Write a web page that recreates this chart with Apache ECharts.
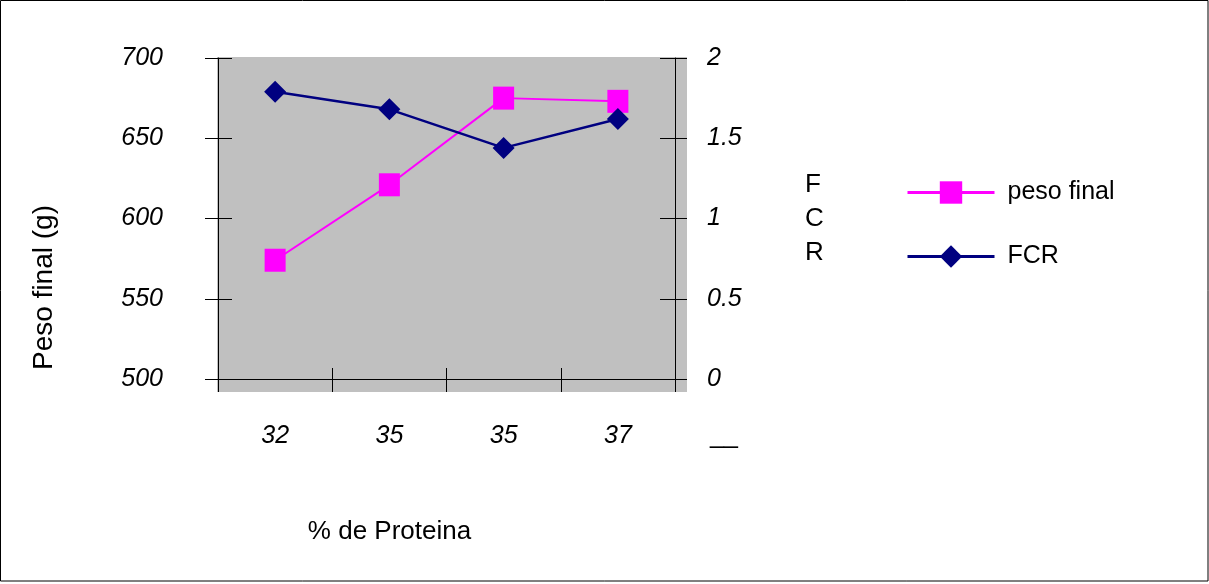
<!DOCTYPE html>
<html>
<head>
<meta charset="utf-8">
<script src="https://cdn.jsdelivr.net/npm/echarts@6/dist/echarts.min.js"></script>
<style>
  html, body { margin: 0; padding: 0; background: #fff; }
  #main { width: 1209px; height: 584px; }
</style>
</head>
<body>
<div id="main"></div>
<script>
// datos
const categorias = ['32', '35', '35', '37']
const pesoFinal = [574, 621, 675, 673]
const fcr = [1.79, 1.68, 1.44, 1.62]

const fuente = 'Liberation Sans'
const chart = echarts.init(document.getElementById('main'))

const labelStyle = { color: '#000', fontFamily: fuente, fontSize: 25, fontStyle: 'italic' }

chart.setOption({
  backgroundColor: '#fff',
  animation: false,
  grid: { left: 218, right: 534, top: 58, bottom: 205, containLabel: false },
  graphic: [
    // fondo gris del área de trazado (sobresale de los ejes)
    { type: 'rect', z: -10, shape: { x: 217, y: 57, width: 470, height: 335 }, style: { fill: '#c0c0c0' } },
    // marco exterior
    { type: 'rect', z: -20, shape: { x: 0.5, y: 0.5, width: 1207.5, height: 580.5 }, style: { fill: '#fff', stroke: '#000', lineWidth: 1 } },
    { type: 'text', left: 710, top: 424, style: { text: '__', fontFamily: fuente, fontSize: 25, fill: '#000' } }
  ],
  legend: {
    orient: 'vertical',
    left: 906,
    top: 180,
    padding: 0,
    itemWidth: 87,
    itemHeight: 28,
    itemGap: 39,
    lineStyle: { width: 3 },
    textStyle: { color: '#000', fontFamily: fuente, fontSize: 25, padding: [0, 0, 0, 8] },
    data: ['peso final', 'FCR']
  },
  xAxis: [{
    type: 'category',
    data: categorias,
    position: 'bottom',
    axisLine: { show: true, lineStyle: { color: '#000', width: 1 } },
    axisTick: { show: true, inside: true, length: 11, lineStyle: { color: '#000' } },
    axisLabel: Object.assign({ margin: 45 }, labelStyle),
    splitLine: { show: false },
    name: '% de Proteina',
    nameLocation: 'middle',
    nameGap: 140,
    nameTextStyle: { color: '#000', fontFamily: fuente, fontSize: 26, padding: [0, 114, 0, 0] }
  }, {
    type: 'category',
    data: categorias,
    position: 'bottom',
    axisLine: { show: false },
    axisTick: { show: true, inside: false, length: 13, lineStyle: { color: '#000' } },
    axisLabel: { show: false },
    splitLine: { show: false }
  }],
  yAxis: [{
    type: 'value',
    position: 'left',
    min: 500,
    max: 700,
    interval: 50,
    axisLine: { show: true, lineStyle: { color: '#000', width: 1 } },
    axisTick: { show: true, inside: true, length: 14, lineStyle: { color: '#000' } },
    axisLabel: Object.assign({ margin: 55 }, labelStyle),
    splitLine: { show: false },
    name: 'Peso final (g)',
    nameLocation: 'middle',
    nameGap: 160,
    nameTextStyle: { color: '#000', fontFamily: fuente, fontSize: 28, padding: [0, 138, 0, 0] }
  }, {
    type: 'value',
    position: 'left',
    min: 500,
    max: 700,
    interval: 50,
    axisLine: { show: false },
    axisTick: { show: true, inside: false, length: 13, lineStyle: { color: '#000' } },
    axisLabel: { show: false },
    splitLine: { show: false }
  }, {
    type: 'value',
    position: 'right',
    min: 0,
    max: 2,
    interval: 0.5,
    axisLine: { show: true, lineStyle: { color: '#000', width: 1 } },
    axisTick: { show: true, inside: true, length: 15, lineStyle: { color: '#000' } },
    axisLabel: Object.assign({ margin: 32 }, labelStyle),
    splitLine: { show: false },
    name: 'F\nC\nR',
    nameLocation: 'middle',
    nameRotate: 0,
    nameGap: 130,
    nameTextStyle: { color: '#000', fontFamily: fuente, fontSize: 26, lineHeight: 34, align: 'left', padding: [0, 0, 36, 0] }
  }, {
    type: 'value',
    position: 'right',
    min: 0,
    max: 2,
    interval: 0.5,
    axisLine: { show: false },
    axisTick: { show: true, inside: false, length: 12, lineStyle: { color: '#000' } },
    axisLabel: { show: false },
    splitLine: { show: false }
  }],
  series: [{
    name: 'peso final',
    type: 'line',
    data: pesoFinal,
    xAxisIndex: 0,
    yAxisIndex: 0,
    symbol: 'rect',
    symbolSize: [21, 23],
    lineStyle: { color: '#ff00ff', width: 2 },
    itemStyle: { color: '#ff00ff' }
  }, {
    name: 'FCR',
    type: 'line',
    data: fcr,
    xAxisIndex: 0,
    yAxisIndex: 2,
    symbol: 'diamond',
    symbolSize: 22,
    lineStyle: { color: '#000080', width: 2.5 },
    itemStyle: { color: '#000080' }
  }]
})
</script>
</body>
</html>
